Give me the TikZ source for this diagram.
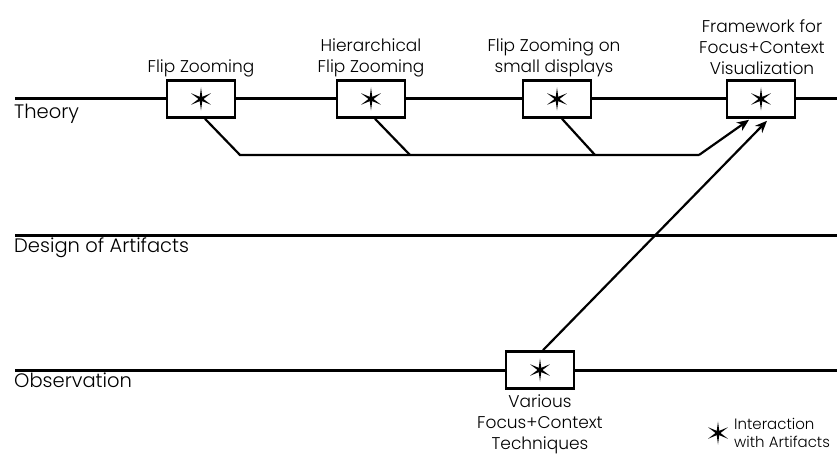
\documentclass[tikz,border=0pt]{standalone}
\usepackage{fontspec}
\setmainfont{Poppins Light}
\usetikzlibrary{calc,arrows.meta}
\begin{document}
\begin{tikzpicture}[x=1pt,y=-1pt,
  track/.style={line width=3pt},
  ibox/.style={draw,line width=2.6pt,fill=white,minimum width=68pt,minimum height=37pt,inner sep=0pt},
  lbl/.style={font=\fontsize{17}{21}\selectfont,align=center,inner sep=0pt},
  lane/.style={font=\fontsize{19.5}{22}\selectfont,anchor=north west,inner sep=0pt},
  link/.style={line width=2.2pt},
  arr/.style={line width=2.2pt,-{Stealth[length=12pt,width=10pt]}},
  star/.pic={\fill (90:11.5) -- (120:2.5) -- (150:11.5) -- (180:2.5) -- (210:11.5) -- (240:2.5) -- (270:11.5) -- (300:2.5) -- (330:11.5) -- (0:2.5) -- (30:11.5) -- (60:2.5) -- cycle;}
]
\useasboundingbox (0,0) rectangle (837,457);

% the three lanes
\draw[track] (15,99) -- (837,99);
\draw[track] (15,235) -- (837,235);
\draw[track] (15,370) -- (837,370);
\node[lane] (theory) at (14,104) {Theory};
\node[lane] (design) at (14,238) {Design of Artifacts};
\node[lane] (obs) at (14,373) {Observation};

% interaction boxes
\node[ibox] (b1) at (201,99) {};
\node[ibox] (b2) at (371,99) {};
\node[ibox] (b3) at (557,99) {};
\node[ibox] (b4) at (761,99) {};
\node[ibox] (b5) at (540,370) {};
\foreach \b in {b1,b2,b3,b4,b5} \pic at (\b) {star};

% box labels
\node[lbl,anchor=south] (t1) at (201,77) {Flip Zooming};
\node[lbl,anchor=south] (t2) at (371,77) {Hierarchical\\Flip Zooming};
\node[lbl,anchor=south] (t3) at (554,77) {Flip Zooming on\\small displays};
\node[lbl,anchor=south] (t4) at (762,75) {Framework for\\Focus+Context\\Visualization};
\node[lbl,anchor=north] (t5) at (540,395) {Various\\Focus+Context\\Techniques};

% links from the theory boxes
\coordinate (j1) at (240,155);
\coordinate (j2) at (410,155);
\coordinate (j3) at (595,155);
\coordinate (j4) at (699,155);
\draw[link] ($(b1.south)+(4,0)$) -- (j1) -- (j4);
\draw[link] ($(b2.south)+(4,0)$) -- (j2);
\draw[link] ($(b3.south)+(5,0)$) -- (j3);
\draw[arr] (j4) -- ($(b4.south)+(-12,1)$);
\draw[arr] ($(b5.north)+(3,0)$) -- ($(b4.south)+(6,2)$);

% legend
\pic at (718,433) {star};
\node[lbl,anchor=west,align=left,font=\fontsize{15}{18}\selectfont] (leg) at (734,433) {Interaction\\with Artifacts};
\end{tikzpicture}
\end{document}
